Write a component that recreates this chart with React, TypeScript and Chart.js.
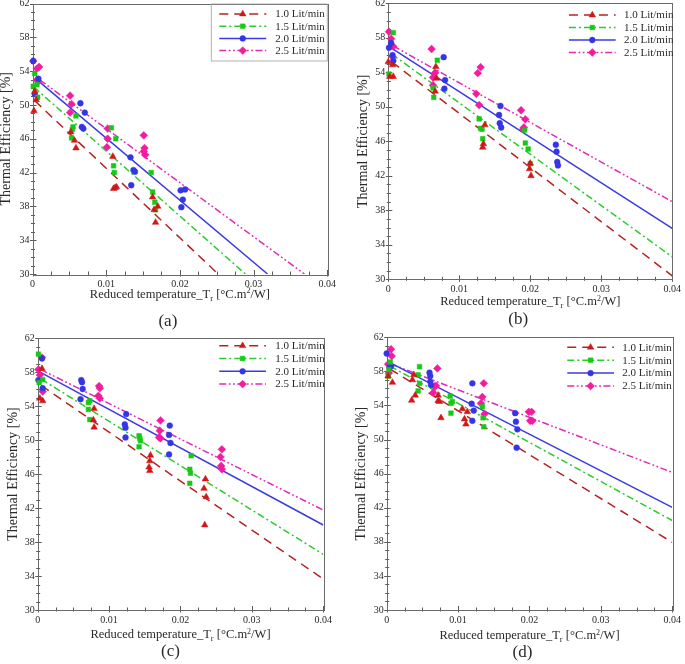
import React, { useEffect, useRef } from "react";
import { Chart, registerables } from "chart.js";
import { drawPoint } from "chart.js/helpers";
Chart.register(...registerables);

const SERIF = '"Liberation Serif", "Times New Roman", serif';

const FLOWS = ["1.0 Lit/min", "1.5 Lit/min", "2.0 Lit/min", "2.5 Lit/min"];
const PANEL_LABELS = ["(a)", "(b)", "(c)", "(d)"];
const X_TICKS = [0, 0.01, 0.02, 0.03, 0.04];
const X_TICK_LABELS = ["0", "0.01", "0.02", "0.03", "0.04"];
const Y_TICKS = [30, 34, 38, 42, 46, 50, 54, 58, 62];
const Y_TITLE = "Thermal Efficiency [%]";

// ---------- Panel (a) ----------
const A_Q10 = [[0.0002, 49.3], [0.0003, 51.6], [0.0005, 50.6], [0.0052, 46.8], [0.0057, 45.8], [0.0059, 44.9], [0.0109, 43.9], [0.0110, 40.1], [0.0112, 40.2], [0.0114, 40.3], [0.0163, 39.1], [0.0165, 37.6], [0.0170, 38.0], [0.0167, 36.1]];
const A_Q15 = [[0.0003, 53.7], [0.0001, 52.2], [0.0006, 52.4], [0.0007, 50.9], [0.0059, 48.7], [0.0055, 47.4], [0.0054, 47.1], [0.0053, 46.1], [0.0107, 47.3], [0.0113, 46.0], [0.0110, 42.8], [0.0111, 42.0], [0.0161, 42.0], [0.0163, 39.7], [0.0166, 38.5], [0.0167, 37.6]];
const A_Q20 = [[0.0001, 55.2], [0.0008, 53.1], [0.0003, 51.3], [0.0065, 50.2], [0.0071, 49.1], [0.0067, 47.4], [0.0069, 47.2], [0.0133, 43.8], [0.0137, 42.3], [0.0139, 42.1], [0.0134, 40.5], [0.0201, 39.9], [0.0207, 40.0], [0.0204, 38.8], [0.0202, 37.9]];
const A_Q25 = [[0.0001, 55.2], [0.0006, 54.3], [0.0009, 54.5], [0.0006, 52.95], [0.0008, 52.8], [0.0051, 51.1], [0.0053, 50.1], [0.0051, 49.1], [0.0102, 47.2], [0.0102, 46.0], [0.0101, 45.0], [0.0151, 46.4], [0.0152, 44.9], [0.0151, 44.5], [0.0153, 44.1]];
const A_FIT10 = [[0.0003, 50.5], [0.0252, 30]];
const A_FIT15 = [[0.0002, 52.1], [0.0289, 30]];
const A_FIT20 = [[0.0009, 52.75], [0.0319, 30]];
const A_FIT25 = [[0.001, 52.95], [0.0369, 30]];

// ---------- Panel (b) ----------
const B_Q10 = [[0.0, 55.2], [0.0006, 54.85], [0.0002, 53.5], [0.0007, 53.5], [0.0067, 54.65], [0.0068, 53.3], [0.0066, 51.8], [0.0136, 47.9], [0.0134, 45.7], [0.0133, 45.3], [0.0200, 43.45], [0.0199, 42.8], [0.0201, 42.0]];
const B_Q15 = [[0.0007, 58.6], [0.0001, 53.8], [0.0069, 55.4], [0.0063, 52.2], [0.0064, 51.1], [0.0128, 48.6], [0.0130, 47.5], [0.0132, 47.4], [0.0133, 46.3], [0.0192, 47.3], [0.0193, 45.8], [0.0197, 45.1], [0.0200, 43.4]];
const B_Q20 = [[0.0001, 56.85], [0.0004, 57.4], [0.0006, 56.0], [0.0007, 55.35], [0.0078, 55.75], [0.0080, 53.1], [0.0079, 52.1], [0.0158, 50.1], [0.0156, 49.05], [0.0157, 48.1], [0.0159, 47.6], [0.0236, 45.6], [0.0237, 44.8], [0.0238, 43.6], [0.0239, 43.2]];
const B_Q25 = [[0.0001, 58.7], [0.0004, 57.9], [0.0007, 57.0], [0.0006, 55.8], [0.0061, 56.7], [0.0066, 53.95], [0.0063, 53.4], [0.0063, 52.5], [0.0130, 54.6], [0.0126, 53.9], [0.0124, 51.5], [0.0128, 50.2], [0.0187, 49.6], [0.0193, 48.55], [0.0191, 47.6], [0.0190, 47.4]];
const B_FIT10 = [[0.0005, 55.2], [0.04, 30.4]];
const B_FIT15 = [[0.0005, 56.1], [0.04, 32.6]];
const B_FIT20 = [[0.0005, 56.77], [0.04, 35.9]];
const B_FIT25 = [[0.0007, 57.05], [0.04, 39.0]];

// ---------- Panel (c) ----------
const C_Q10 = [[0.0006, 58.4], [0.0003, 54.9], [0.0007, 54.6], [0.0079, 53.7], [0.0078, 52.35], [0.0079, 51.5], [0.0158, 48.2], [0.0157, 47.55], [0.0156, 46.8], [0.0157, 46.4], [0.0235, 45.4], [0.0233, 44.3], [0.0236, 43.3], [0.0234, 40.0]];
const C_Q15 = [[0.0001, 60.1], [0.0007, 57.1], [0.0002, 56.75], [0.0073, 54.6], [0.0071, 54.4], [0.0071, 53.6], [0.0073, 52.4], [0.0142, 50.5], [0.0143, 50.2], [0.0144, 49.9], [0.0142, 49.2], [0.0215, 48.15], [0.0213, 46.55], [0.0214, 46.1], [0.0213, 44.9]];
const C_Q20 = [[0.0006, 59.6], [0.0001, 57.05], [0.0007, 56.1], [0.0061, 57.05], [0.0062, 56.8], [0.0063, 56.0], [0.0060, 54.8], [0.0124, 53.05], [0.0122, 51.85], [0.0123, 51.45], [0.0123, 50.3], [0.0185, 51.7], [0.0184, 50.6], [0.0186, 49.65], [0.0184, 48.3]];
const C_Q25 = [[0.0006, 59.7], [0.0001, 58.3], [0.0003, 57.65], [0.0007, 55.7], [0.0086, 56.35], [0.0087, 56.1], [0.0085, 55.2], [0.0087, 54.9], [0.0172, 52.3], [0.0171, 51.1], [0.0170, 50.3], [0.0172, 50.2], [0.0258, 48.9], [0.0256, 48.0], [0.0257, 46.95], [0.0258, 46.55]];
const C_FIT10 = [[0.0005, 56.4], [0.04, 33.65]];
const C_FIT15 = [[0.0005, 57.15], [0.04, 36.55]];
const C_FIT20 = [[0.0002, 58.04], [0.04, 40.0]];
const C_FIT25 = [[0.0004, 58.3], [0.04, 41.76]];

// ---------- Panel (d) ----------
const D_Q10 = [[0.0008, 56.7], [0.0002, 57.45], [0.0035, 54.6], [0.0040, 55.2], [0.0036, 57.0], [0.0038, 57.6], [0.0072, 54.55], [0.0074, 54.45], [0.0072, 55.2], [0.0076, 52.55], [0.0106, 53.6], [0.0113, 53.25], [0.0109, 52.4], [0.0111, 51.8]];
const D_Q15 = [[0.0005, 59.1], [0.0002, 57.45], [0.0003, 58.2], [0.0046, 58.55], [0.0044, 57.6], [0.0046, 56.6], [0.0044, 55.7], [0.0089, 55.1], [0.0092, 54.45], [0.0090, 54.25], [0.0090, 53.1], [0.0134, 53.85], [0.0135, 52.55], [0.0136, 51.5]];
const D_Q20 = [[0.0, 60.1], [0.0006, 58.6], [0.0004, 58.5], [0.0060, 57.85], [0.0061, 57.45], [0.0061, 56.8], [0.0062, 56.4], [0.0120, 56.6], [0.0119, 54.2], [0.0122, 53.4], [0.0120, 52.2], [0.0180, 53.1], [0.0181, 52.1], [0.0183, 51.2], [0.0182, 49.05]];
const D_Q25 = [[0.0006, 60.6], [0.0007, 59.8], [0.0002, 58.85], [0.0003, 57.8], [0.0071, 58.35], [0.0069, 56.3], [0.0067, 56.25], [0.0065, 55.5], [0.0136, 56.6], [0.0134, 55.0], [0.0132, 54.25], [0.0137, 53.0], [0.0199, 53.25], [0.0203, 53.25], [0.0201, 52.2], [0.0204, 52.2]];
const D_FIT10 = [[0.0005, 58.25], [0.04, 37.94]];
const D_FIT15 = [[0.0005, 58.6], [0.04, 40.5]];
const D_FIT20 = [[0.0005, 59.0], [0.04, 42.05]];
const D_FIT25 = [[0.0005, 58.9], [0.04, 46.15]];

const STYLES = [
  { color: "#d01818", line: "#b82222", dash: [9, 6], point: "triangle", r: 3.8 },
  { color: "#18c818", line: "#2ccc2c", dash: [7, 3, 2, 3], point: "rect", r: 3.3 },
  { color: "#3535e8", line: "#3b3be0", dash: [], point: "circle", r: 2.9 },
  { color: "#f21c9e", line: "#e02ab8", dash: [7, 2.5, 1.8, 2.5, 1.8, 2.5], point: "rectRot", r: 3.9 },
];

const PANELS = [
  {
    label: PANEL_LABELS[0],
    box: { left: -2, top: -12, width: 342, height: 343 },
    plot: { l: 32.5, t: 3.5, r: 328, b: 274 },
    xTitleOff: 19.5, labelOff: 47.5, labelDx: -12,
    legend: { top: 10.5, step: 12.2, x0: -108, x1: -61, tx: -52, box: true },
    pts: [A_Q10, A_Q15, A_Q20, A_Q25],
    fits: [A_FIT10, A_FIT15, A_FIT20, A_FIT25],
  },
  {
    label: PANEL_LABELS[1],
    box: { left: 355, top: -12, width: 330, height: 343 },
    plot: { l: 388.3, t: 3.3, r: 673.3, b: 279.3 },
    xTitleOff: 21.4, labelOff: 40.7, labelDx: -12,
    legend: { top: 11.7, step: 12.5, x0: -103.3, x1: -56.6, tx: -48.3, box: false },
    pts: [B_Q10, B_Q15, B_Q20, B_Q25],
    fits: [B_FIT10, B_FIT15, B_FIT20, B_FIT25],
  },
  {
    label: PANEL_LABELS[2],
    box: { left: 5, top: 322, width: 331, height: 342 },
    plot: { l: 37.7, t: 338, r: 324, b: 610 },
    xTitleOff: 24, labelOff: 41.7, labelDx: -10,
    legend: { top: 7.7, step: 12.8, x0: -104, x1: -57.3, tx: -48, box: false },
    pts: [C_Q10, C_Q15, C_Q20, C_Q25],
    fits: [C_FIT10, C_FIT15, C_FIT20, C_FIT25],
  },
  {
    label: PANEL_LABELS[3],
    box: { left: 353, top: 322, width: 332, height: 342 },
    plot: { l: 386.7, t: 337.3, r: 675, b: 610 },
    xTitleOff: 25, labelOff: 42.7, labelDx: -7,
    legend: { top: 10, step: 12.9, x0: -105, x1: -58.3, tx: -50, box: false },
    pts: [D_Q10, D_Q15, D_Q20, D_Q25],
    fits: [D_FIT10, D_FIT15, D_FIT20, D_FIT25],
  },
];

const X_AXIS_H = 20;

function xLabel(v: number) {
  const i = X_TICKS.findIndex((t) => Math.abs(t - v) < 1e-7);
  return i >= 0 ? X_TICK_LABELS[i] : "";
}
function yLabel(v: number) {
  const r = Math.round(v);
  return Math.abs(v - r) < 1e-6 && Y_TICKS.includes(r) ? String(r) : "";
}

function Panel({ cfg }: { cfg: any }) {
  const ref = useRef<HTMLCanvasElement>(null);
  useEffect(() => {
    const canvas = ref.current!;
    const { box, plot } = cfg;
    const yAxisW = plot.l - box.left;
    const pad = {
      left: 0,
      top: plot.t - box.top,
      right: box.left + box.width - plot.r,
      bottom: box.top + box.height - plot.b - X_AXIS_H,
    };
    const datasets: any[] = [];
    cfg.pts.forEach((pts: number[][], i: number) => {
      const st = STYLES[i];
      datasets.push({
        label: FLOWS[i] + " fit",
        data: cfg.fits[i].map(([x, y]: number[]) => ({ x, y })),
        showLine: true,
        borderColor: st.line,
        borderWidth: 1.5,
        borderDash: st.dash,
        pointRadius: 0,
        fill: false,
        order: 2,
      });
      datasets.push({
        label: FLOWS[i],
        data: pts.map(([x, y]) => ({ x, y })),
        showLine: false,
        pointStyle: st.point,
        pointRadius: st.r,
        backgroundColor: st.color,
        borderColor: st.color,
        borderWidth: 0.5,
        clip: false,
        order: 1,
      });
    });

    const decor = {
      id: "decor",
      beforeDatasetsDraw(chart: any) {
        const ctx = chart.ctx;
        const { left, right, top, bottom } = chart.chartArea;
        const xs = chart.scales.x;
        const ys = chart.scales.y;
        ctx.save();
        ctx.strokeStyle = "#5a5a5a";
        ctx.lineWidth = 1;
        ctx.beginPath();
        xs.ticks.forEach((t: any) => {
          const px = Math.round(xs.getPixelForValue(t.value)) + 0.5;
          const major = xLabel(t.value) !== "";
          ctx.moveTo(px, bottom + (major ? 2.5 : 1.5));
          ctx.lineTo(px, bottom - (major ? 4 : 2.5));
        });
        ys.ticks.forEach((t: any) => {
          const py = Math.round(ys.getPixelForValue(t.value)) + 0.5;
          const major = yLabel(t.value) !== "";
          ctx.moveTo(left - (major ? 2.5 : 1.5), py);
          ctx.lineTo(left + (major ? 4 : 2.5), py);
        });
        ctx.stroke();
        ctx.strokeStyle = "#6a6a6a";
        ctx.strokeRect(Math.round(left) + 0.5, Math.round(top) + 0.5, Math.round(right - left), Math.round(bottom - top));
        ctx.restore();
      },
      afterDraw(chart: any) {
        const ctx = chart.ctx;
        const { left, right, top, bottom } = chart.chartArea;
        const lg = cfg.legend;
        ctx.save();
        if (lg.box) {
          ctx.strokeStyle = "#a0a0a0";
          ctx.lineWidth = 0.8;
          ctx.strokeRect(right - 116, top + 0.5, 116, 57);
        }
        FLOWS.forEach((name, i) => {
          const st = STYLES[i];
          const y = top + lg.top + i * lg.step;
          ctx.strokeStyle = st.line;
          ctx.lineWidth = 1.5;
          ctx.setLineDash(st.dash);
          ctx.beginPath();
          ctx.moveTo(right + lg.x0, y);
          ctx.lineTo(right + lg.x1, y);
          ctx.stroke();
          ctx.setLineDash([]);
          ctx.fillStyle = st.color;
          ctx.strokeStyle = st.color;
          ctx.lineWidth = 0.5;
          drawPoint(ctx, { pointStyle: st.point, radius: st.r, rotation: 0, borderWidth: 0.5 } as any, right + (lg.x0 + lg.x1) / 2, y);
          ctx.fillStyle = "#2a2a2a";
          ctx.font = `11px ${SERIF}`;
          ctx.textAlign = "left";
          ctx.textBaseline = "middle";
          ctx.fillText(name, right + lg.tx, y + 0.5);
        });

        // x-axis title with sub/superscripts
        const parts = [
          { t: "Reduced temperature_T", s: 12.5, dy: 0 },
          { t: "r", s: 8.5, dy: 3 },
          { t: " [°C.m", s: 12.5, dy: 0 },
          { t: "2", s: 8, dy: -4.5 },
          { t: "/W]", s: 12.5, dy: 0 },
        ];
        let total = 0;
        parts.forEach((p) => {
          ctx.font = `${p.s}px ${SERIF}`;
          total += ctx.measureText(p.t).width;
        });
        let x = (left + right) / 2 - total / 2;
        const ty = bottom + cfg.xTitleOff;
        ctx.fillStyle = "#2a2a2a";
        ctx.textBaseline = "alphabetic";
        parts.forEach((p) => {
          ctx.font = `${p.s}px ${SERIF}`;
          ctx.fillText(p.t, x, ty + 4.3 + p.dy);
          x += ctx.measureText(p.t).width;
        });

        // panel label
        ctx.font = `17px ${SERIF}`;
        ctx.textAlign = "center";
        ctx.textBaseline = "middle";
        ctx.fillText(cfg.label, (left + right) / 2 + cfg.labelDx, bottom + cfg.labelOff);
        ctx.restore();
      },
    };

    const chart = new Chart(canvas, {
      type: "scatter",
      data: { datasets },
      options: {
        animation: false,
        responsive: true,
        maintainAspectRatio: false,
        layout: { padding: pad },
        plugins: { legend: { display: false }, tooltip: { enabled: false }, title: { display: false } },
        scales: {
          x: {
            type: "linear",
            min: 0,
            max: 0.04,
            grid: { display: false, drawTicks: false },
            border: { display: false },
            ticks: {
              stepSize: 0.0025,
              autoSkip: false,
              maxRotation: 0,
              padding: 4,
              color: "#2a2a2a",
              font: { family: SERIF, size: 10 },
              callback: (v: any) => xLabel(Number(v)),
            },
            afterFit: (s: any) => {
              s.height = X_AXIS_H;
            },
          },
          y: {
            type: "linear",
            min: 30,
            max: 62,
            grid: { display: false, drawTicks: false },
            border: { display: false },
            ticks: {
              stepSize: 1,
              autoSkip: false,
              padding: 3,
              color: "#2a2a2a",
              font: { family: SERIF, size: 10 },
              callback: (v: any) => yLabel(Number(v)),
            },
            title: {
              display: true,
              text: Y_TITLE,
              color: "#2a2a2a",
              font: { family: SERIF, size: 14 },
              padding: { top: 0, bottom: 0 },
            },
            afterFit: (s: any) => {
              s.width = yAxisW;
            },
          },
        },
      } as any,
      plugins: [decor],
    });
    return () => chart.destroy();
  }, [cfg]);

  return (
    <div style={{ position: "absolute", left: cfg.box.left, top: cfg.box.top, width: cfg.box.width, height: cfg.box.height }}>
      <canvas ref={ref} />
    </div>
  );
}

export default function App() {
  return (
    <div style={{ position: "absolute", left: 0, top: 0, width: 685, height: 664, overflow: "hidden", background: "#fff" }}>
      {PANELS.map((p) => (
        <Panel key={p.label} cfg={p} />
      ))}
    </div>
  );
}
